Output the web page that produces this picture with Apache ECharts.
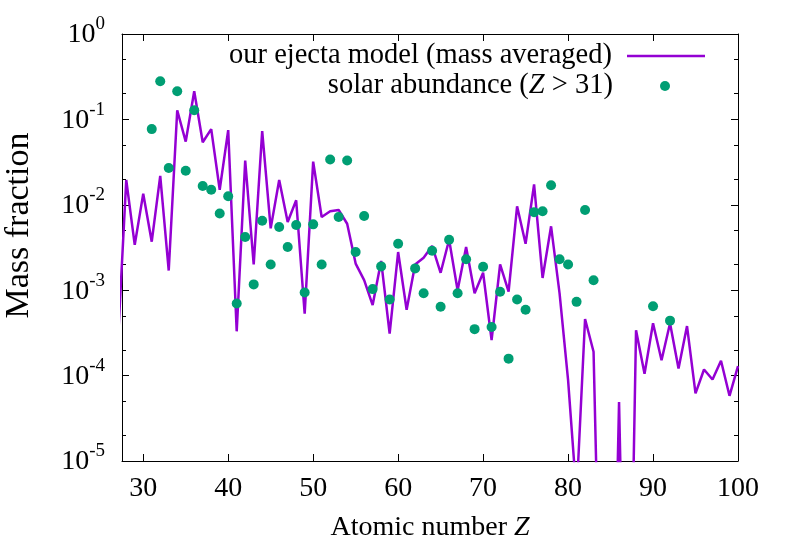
<!DOCTYPE html>
<html>
<head>
<meta charset="utf-8">
<script src="https://cdn.jsdelivr.net/npm/echarts@6/dist/echarts.min.js"></script>
<style>
  html, body { margin: 0; padding: 0; background: #fff; }
  #chart { width: 789px; height: 552px; }
</style>
</head>
<body>
<div id="chart"></div>
<script>
// atomic numbers and mass fractions
const modelZ = [27, 28, 29, 30, 31, 32, 33, 34, 35, 36, 37, 38, 39, 40, 41, 42, 43, 44, 45, 46,
  47, 48, 49, 50, 51, 52, 53, 54, 55, 56, 57, 58, 59, 60, 61, 62, 63, 64, 65, 66,
  67, 68, 69, 70, 71, 72, 73, 74, 75, 76, 77, 78, 79, 80, 81, 82, 83, 84, 85, 86,
  87, 88, 89, 90, 91, 92, 93, 94, 95, 96, 97, 98, 99, 100];
const modelValues = [2.3e-4, 0.0195, 0.0034, 0.0135, 0.0037, 0.0218, 0.0017, 0.128, 0.055, 0.214,
  0.054, 0.077, 0.015, 0.075, 0.00033, 0.033, 0.0020, 0.073, 0.0053, 0.0195,
  0.0063, 0.0113, 0.00053, 0.032, 0.0072, 0.0084, 0.0087, 0.0060, 0.00205, 0.00131,
  0.00067, 0.0022, 0.00031, 0.0028, 0.00059, 0.0020, 0.0024, 0.0033, 0.0016, 0.0039,
  0.0010, 0.0032, 0.00092, 0.0016, 0.00026, 0.0020, 0.00096, 0.0096, 0.0035, 0.0173,
  0.00139, 0.0056, 0.00092, 8.9e-5, 3.9e-6, 0.00046, 0.00019, 1e-8, 1e-9, 4.9e-5,
  1e-9, 0.00034, 0.000105, 0.00041, 0.000151, 0.00041, 0.000121, 0.00038, 6.2e-5, 0.000118,
  9e-5, 0.000149, 5.8e-5, 0.000129];

const solarZ = [31, 32, 33, 34, 35, 36, 37, 38, 39, 40, 41, 42, 43, 44, 45, 46, 47, 48, 49, 50,
  51, 52, 53, 54, 55, 56, 57, 58, 59, 60, 62, 63, 64, 65, 66, 67, 68, 69, 70, 71,
  72, 73, 74, 75, 76, 77, 78, 79, 80, 81, 82, 83, 90, 92];
const solarValues = [0.077, 0.28, 0.027, 0.214, 0.025, 0.128, 0.0166, 0.015, 0.0079, 0.0126,
  0.00070, 0.0042, 0.00117, 0.0065, 0.0020, 0.0055, 0.0032, 0.0058, 0.00094, 0.0059,
  0.0020, 0.034, 0.0072, 0.033, 0.0028, 0.0074, 0.00103, 0.0019, 0.00078, 0.0035,
  0.0018, 0.00092, 0.0029, 0.00064, 0.0039, 0.00092, 0.0023, 0.00035, 0.00188, 0.00037,
  0.00096, 0.000158, 0.00078, 0.00059, 0.0082, 0.0084, 0.0169, 0.0023, 0.0020, 0.00073,
  0.0087, 0.00131, 0.00065, 0.00044];

const xTicks = [30, 40, 50, 60, 70, 80, 90, 100];
// minor ticks of the log axis sit at 2x and 5x each decade
const yMinorTicks = [2e-5, 5e-5, 2e-4, 5e-4, 2e-3, 5e-3, 2e-2, 5e-2, 2e-1, 5e-1];

const modelName = "our ejecta model (mass averaged)";
const solarName = "solar abundance (Z > 31)";
const font = "Liberation Serif";

const chart = echarts.init(document.getElementById("chart"), null, { renderer: "canvas" });

const axisLine = { show: true, onZero: false, lineStyle: { color: "#000", width: 1 } };
const xRange = { min: 27.5, max: 100 };
const yRange = { min: 1e-5, max: 1 };

function powLabel(v) {
  return "{b|10}{s|" + Math.round(Math.log10(v)) + "}";
}

function minorAxis(position) {
  return {
    type: "log", logBase: 10, ...yRange, position,
    axisLine: { show: false },
    axisTick: { inside: true, length: 4, customValues: yMinorTicks, lineStyle: { color: "#000" } },
    axisLabel: { show: false },
    splitLine: { show: false }
  };
}

chart.setOption({
  animation: false,
  backgroundColor: "#fff",
  grid: { left: 122, right: 51, top: 34, bottom: 91, containLabel: false, outerBoundsMode: "none" },
  legend: [
    {
      data: [{ name: modelName, icon: "rect" }],
      right: 84, top: 41, padding: 0,
      align: "right", itemWidth: 78, itemHeight: 2.5, symbolKeepAspect: false,
      textStyle: { fontFamily: font, fontSize: 28.5, color: "#000", lineHeight: 30, padding: [0, 10, 0, 0] }
    },
    {
      data: [solarName],
      right: 119, top: 71, padding: 0,
      align: "right", itemWidth: 78, itemHeight: 10,
      formatter: () => "solar abundance ({i|Z} > 31)",
      textStyle: {
        fontFamily: font, fontSize: 28.5, color: "#000", lineHeight: 30, padding: [0, 8, 0, 0],
        rich: { i: { fontFamily: font, fontSize: 28.5, fontStyle: "italic", color: "#000" } }
      }
    }
  ],
  xAxis: [
    {
      type: "value", ...xRange, position: "bottom",
      name: "Atomic number {i|Z}", nameLocation: "middle", nameGap: 53,
      nameTextStyle: {
        fontFamily: font, fontSize: 28, color: "#000",
        rich: { i: { fontFamily: font, fontSize: 28, fontStyle: "italic", color: "#000" } }
      },
      axisLine,
      axisTick: { inside: true, length: 7, customValues: xTicks, lineStyle: { color: "#000" } },
      axisLabel: { customValues: xTicks, margin: 14, fontFamily: font, fontSize: 28, color: "#000" },
      splitLine: { show: false }
    },
    {
      type: "value", ...xRange, position: "top",
      axisLine,
      axisTick: { inside: true, length: 7, customValues: xTicks, lineStyle: { color: "#000" } },
      axisLabel: { show: false },
      splitLine: { show: false }
    }
  ],
  yAxis: [
    {
      type: "log", logBase: 10, ...yRange, interval: 1, position: "left",
      name: "Mass fraction", nameLocation: "middle", nameRotate: 90, nameGap: 86,
      nameTextStyle: { fontFamily: font, fontSize: 34, color: "#000", padding: [0, 0, 0, 44] },
      axisLine,
      axisTick: { inside: true, length: 7, lineStyle: { color: "#000" } },
      axisLabel: {
        margin: 17, formatter: powLabel,
        rich: {
          b: { fontFamily: font, fontSize: 28, color: "#000", lineHeight: 30, verticalAlign: "bottom" },
          s: { fontFamily: font, fontSize: 19, color: "#000", lineHeight: 19, verticalAlign: "bottom", padding: [0, 0, 15, 0] }
        }
      },
      splitLine: { show: false }
    },
    {
      type: "log", logBase: 10, ...yRange, interval: 1, position: "right",
      axisLine,
      axisTick: { inside: true, length: 7, lineStyle: { color: "#000" } },
      axisLabel: { show: false },
      splitLine: { show: false }
    },
    minorAxis("left"),
    minorAxis("right")
  ],
  series: [
    {
      name: modelName,
      type: "line",
      xAxisIndex: 0, yAxisIndex: 0,
      data: modelZ.map((z, i) => [z, modelValues[i]]),
      symbol: "none",
      clip: true,
      lineStyle: { color: "#9400d3", width: 2.5 },
      itemStyle: { color: "#9400d3" },
      z: 2
    },
    {
      name: solarName,
      type: "scatter",
      xAxisIndex: 0, yAxisIndex: 0,
      data: solarZ.map((z, i) => [z, solarValues[i]]),
      symbol: "circle",
      symbolSize: 10,
      itemStyle: { color: "#009e73", opacity: 1 },
      z: 3
    }
  ]
});
</script>
</body>
</html>
